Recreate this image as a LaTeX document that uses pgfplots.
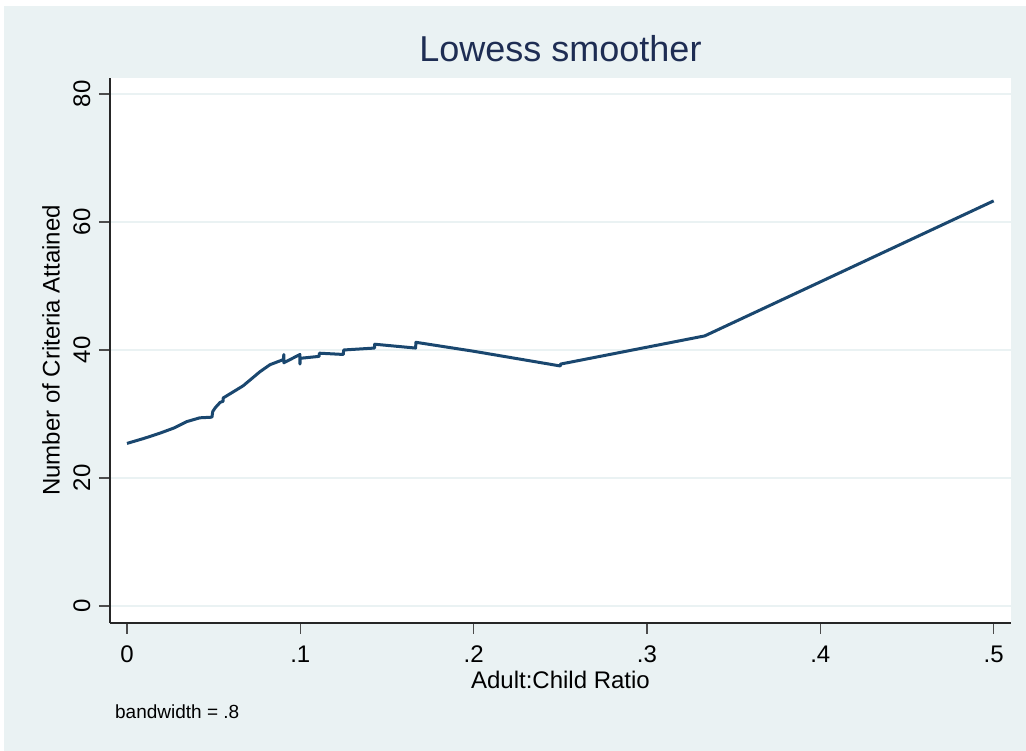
\documentclass[border=0pt]{standalone}
\usepackage{pgfplots}
\pgfplotsset{compat=1.18}
\usepackage{fontspec}
\setmainfont{Liberation Sans}
\definecolor{stbg}{HTML}{EAF2F3}
\definecolor{stline}{HTML}{1A476F}
\definecolor{sttitle}{HTML}{1E2D53}
\begin{document}
\begin{tikzpicture}[x=1pt,y=1pt]
\path[use as bounding box, fill=white] (0,0) rectangle (1026,751);
\fill[stbg] (4,0) rectangle (1026,745);
\begin{axis}[
  at={(110pt,128pt)}, anchor=south west,
  scale only axis, width=901pt, height=545pt,
  xmin=-0.0098, xmax=0.510, ymin=-2.66, ymax=82.5,
  axis background/.style={fill=white},
  axis x line*=bottom, axis y line*=left,
  axis line style={line width=1.5pt, color=black!85, -},
  xtick={0,0.1,0.2,0.3,0.4,0.5}, xticklabels={0,.1,.2,.3,.4,.5},
  ytick={0,20,40,60,80}, yticklabels={0,20,40,60,80},
  tick align=outside, major tick length=11pt,
  tick style={line width=1.5pt, color=black!70},
  ymajorgrids, major grid style={stbg, line width=2.5pt},
  ticklabel style={font=\fontsize{24}{28}\selectfont},
  xticklabel style={yshift=-8pt},
  yticklabel style={rotate=90, anchor=south, yshift=5pt},
  xlabel={Adult:Child Ratio},
  xlabel style={at={(axis description cs:0.5,-0.1046)}, anchor=center, font=\fontsize{24}{28}\selectfont},
  ylabel={Number of Criteria Attained},
  ylabel style={at={(axis description cs:-0.0655,0.5)}, anchor=center, rotate=0, font=\fontsize{24}{28}\selectfont},
  title={Lowess smoother},
  title style={at={(axis description cs:0.5,1.042)}, anchor=center, font=\fontsize{36}{40}\selectfont, text=sttitle},
  clip=false,
]
\addplot[stline, line width=3pt, line join=round] coordinates {
(0,25.4) (0.010,26.2) (0.019,27.0) (0.027,27.8) (0.0344,28.8) (0.042,29.4)
(0.049,29.5) (0.0495,30.4) (0.051,31.0) (0.0537,31.8) (0.0555,32.0) (0.0555,32.5)
(0.067,34.4) (0.0767,36.6) (0.0825,37.7) (0.0902,38.5) (0.0905,39.3) (0.0905,38.0)
(0.0998,39.3) (0.0998,37.8) (0.1000,38.7) (0.1108,39.0) (0.1110,39.5) (0.1248,39.3)
(0.1250,40.0) (0.1428,40.3) (0.1429,40.9) (0.1665,40.3) (0.1667,41.2) (0.2,39.8)
(0.25,37.5) (0.2502,37.8) (0.3333,42.2) (0.5,63.3)
};
\node[anchor=base west, inner sep=0pt, font=\fontsize{19}{22}\selectfont] at (axis description cs:0.0055,-0.176) {bandwidth = .8};
\end{axis}
\end{tikzpicture}
\end{document}
